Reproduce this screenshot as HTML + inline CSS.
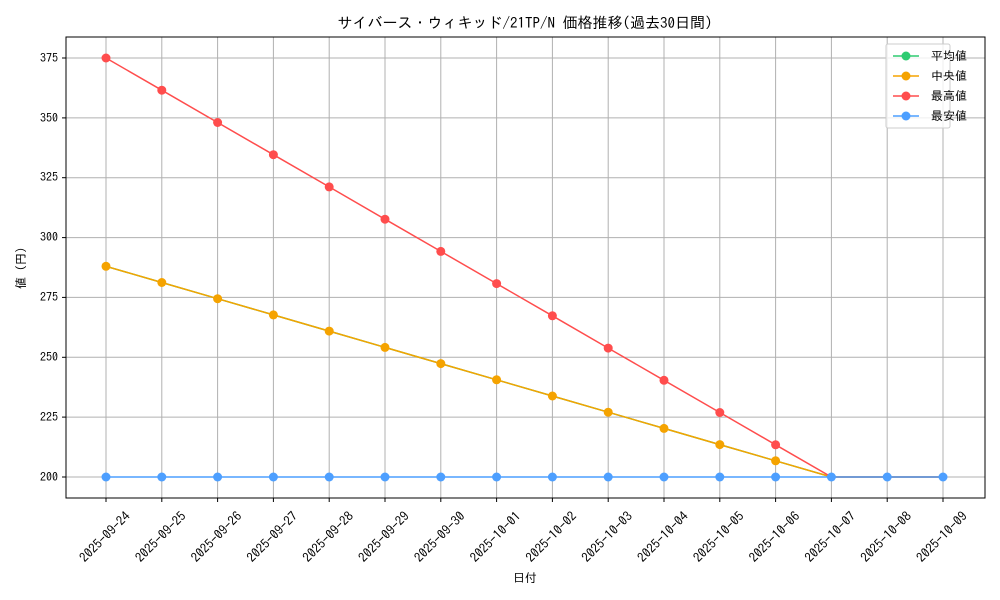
<!DOCTYPE html>
<html><head><meta charset="utf-8"><style>
html,body{margin:0;padding:0;background:#fff;}
svg{display:block;font-family:"IPAGothic","Liberation Mono","Noto Sans CJK JP",monospace;}
</style></head><body>
<svg width="1000" height="600" viewBox="0 0 1000 600" xmlns="http://www.w3.org/2000/svg">
<rect width="1000" height="600" fill="#fff"/>
<g stroke="#b0b0b0" stroke-width="1">
<line x1="106" y1="37" x2="106" y2="498"/><line x1="161.8" y1="37" x2="161.8" y2="498"/><line x1="217.6" y1="37" x2="217.6" y2="498"/><line x1="273.4" y1="37" x2="273.4" y2="498"/><line x1="329.2" y1="37" x2="329.2" y2="498"/><line x1="385" y1="37" x2="385" y2="498"/><line x1="440.8" y1="37" x2="440.8" y2="498"/><line x1="496.6" y1="37" x2="496.6" y2="498"/><line x1="552.4" y1="37" x2="552.4" y2="498"/><line x1="608.2" y1="37" x2="608.2" y2="498"/><line x1="664" y1="37" x2="664" y2="498"/><line x1="719.8" y1="37" x2="719.8" y2="498"/><line x1="775.6" y1="37" x2="775.6" y2="498"/><line x1="831.4" y1="37" x2="831.4" y2="498"/><line x1="887.2" y1="37" x2="887.2" y2="498"/><line x1="943" y1="37" x2="943" y2="498"/>
<line x1="66" y1="477" x2="985" y2="477"/><line x1="66" y1="417.1" x2="985" y2="417.1"/><line x1="66" y1="357.3" x2="985" y2="357.3"/><line x1="66" y1="297.4" x2="985" y2="297.4"/><line x1="66" y1="237.6" x2="985" y2="237.6"/><line x1="66" y1="177.7" x2="985" y2="177.7"/><line x1="66" y1="117.9" x2="985" y2="117.9"/><line x1="66" y1="58" x2="985" y2="58"/>
</g>
<rect x="66" y="37" width="919" height="461" fill="none" stroke="#000" stroke-width="1"/>
<g stroke="#000"><line x1="62" y1="477" x2="66" y2="477"/><line x1="62" y1="417.1" x2="66" y2="417.1"/><line x1="62" y1="357.3" x2="66" y2="357.3"/><line x1="62" y1="297.4" x2="66" y2="297.4"/><line x1="62" y1="237.6" x2="66" y2="237.6"/><line x1="62" y1="177.7" x2="66" y2="177.7"/><line x1="62" y1="117.9" x2="66" y2="117.9"/><line x1="62" y1="58" x2="66" y2="58"/></g>
<g font-size="12" text-anchor="end" fill="#000">
<text x="58" y="481">200</text><text x="58" y="421">225</text><text x="58" y="361">250</text><text x="58" y="301">275</text><text x="58" y="241">300</text><text x="58" y="181">325</text><text x="58" y="122">350</text><text x="58" y="62">375</text>
</g>
<g font-size="13" text-anchor="middle" fill="#000">
<text transform="translate(108,540) rotate(-45)">2025-09-24</text>
<text transform="translate(163.8,540) rotate(-45)">2025-09-25</text>
<text transform="translate(219.6,540) rotate(-45)">2025-09-26</text>
<text transform="translate(275.4,540) rotate(-45)">2025-09-27</text>
<text transform="translate(331.2,540) rotate(-45)">2025-09-28</text>
<text transform="translate(387,540) rotate(-45)">2025-09-29</text>
<text transform="translate(442.8,540) rotate(-45)">2025-09-30</text>
<text transform="translate(498.6,540) rotate(-45)">2025-10-01</text>
<text transform="translate(554.4,540) rotate(-45)">2025-10-02</text>
<text transform="translate(610.2,540) rotate(-45)">2025-10-03</text>
<text transform="translate(666,540) rotate(-45)">2025-10-04</text>
<text transform="translate(721.8,540) rotate(-45)">2025-10-05</text>
<text transform="translate(777.6,540) rotate(-45)">2025-10-06</text>
<text transform="translate(833.4,540) rotate(-45)">2025-10-07</text>
<text transform="translate(889.2,540) rotate(-45)">2025-10-08</text>
<text transform="translate(945,540) rotate(-45)">2025-10-09</text>
</g>
<g stroke="#000"><line x1="106" y1="498" x2="106" y2="502"/><line x1="161.8" y1="498" x2="161.8" y2="502"/><line x1="217.6" y1="498" x2="217.6" y2="502"/><line x1="273.4" y1="498" x2="273.4" y2="502"/><line x1="329.2" y1="498" x2="329.2" y2="502"/><line x1="385" y1="498" x2="385" y2="502"/><line x1="440.8" y1="498" x2="440.8" y2="502"/><line x1="496.6" y1="498" x2="496.6" y2="502"/><line x1="552.4" y1="498" x2="552.4" y2="502"/><line x1="608.2" y1="498" x2="608.2" y2="502"/><line x1="664" y1="498" x2="664" y2="502"/><line x1="719.8" y1="498" x2="719.8" y2="502"/><line x1="775.6" y1="498" x2="775.6" y2="502"/><line x1="831.4" y1="498" x2="831.4" y2="502"/><line x1="887.2" y1="498" x2="887.2" y2="502"/><line x1="943" y1="498" x2="943" y2="502"/></g>
<text x="525" y="582" font-size="12" text-anchor="middle">日付</text>
<text transform="translate(25,268) rotate(-90)" font-size="12" text-anchor="middle">値 (円)</text>
<text x="525" y="28" font-size="15" text-anchor="middle">サイバース・ウィキッド/21TP/N 価格推移(過去30日間)</text>
<polyline points="106,266.3 161.8,282.5 217.6,298.7 273.4,314.9 329.2,331.1 385,347.4 440.8,363.6 496.6,379.8 552.4,396 608.2,412.2 664,428.4 719.8,444.6 775.6,460.8 831.4,477 887.2,477 943,477" fill="none" stroke="#2ecc71" stroke-width="1.5"/>
<polyline points="106,266.3 161.8,282.5 217.6,298.7 273.4,314.9 329.2,331.1 385,347.4 440.8,363.6 496.6,379.8 552.4,396 608.2,412.2 664,428.4 719.8,444.6 775.6,460.8 831.4,477 887.2,477 943,477" fill="none" stroke="#f5a300" stroke-width="1.5"/>
<g fill="#f5a300">
<circle cx="106" cy="266.3" r="4.5"/><circle cx="161.8" cy="282.5" r="4.5"/><circle cx="217.6" cy="298.7" r="4.5"/><circle cx="273.4" cy="314.9" r="4.5"/><circle cx="329.2" cy="331.1" r="4.5"/><circle cx="385" cy="347.4" r="4.5"/><circle cx="440.8" cy="363.6" r="4.5"/><circle cx="496.6" cy="379.8" r="4.5"/><circle cx="552.4" cy="396" r="4.5"/><circle cx="608.2" cy="412.2" r="4.5"/><circle cx="664" cy="428.4" r="4.5"/><circle cx="719.8" cy="444.6" r="4.5"/><circle cx="775.6" cy="460.8" r="4.5"/>
</g>
<polyline points="106,58 161.8,90.2 217.6,122.5 273.4,154.7 329.2,186.9 385,219.2 440.8,251.4 496.6,283.6 552.4,315.8 608.2,348.1 664,380.3 719.8,412.5 775.6,444.8 831.4,477 887.2,477 943,477" fill="none" stroke="#ff4d4d" stroke-width="1.5"/>
<g fill="#ff4d4d">
<circle cx="106" cy="58" r="4.5"/><circle cx="161.8" cy="90.2" r="4.5"/><circle cx="217.6" cy="122.5" r="4.5"/><circle cx="273.4" cy="154.7" r="4.5"/><circle cx="329.2" cy="186.9" r="4.5"/><circle cx="385" cy="219.2" r="4.5"/><circle cx="440.8" cy="251.4" r="4.5"/><circle cx="496.6" cy="283.6" r="4.5"/><circle cx="552.4" cy="315.8" r="4.5"/><circle cx="608.2" cy="348.1" r="4.5"/><circle cx="664" cy="380.3" r="4.5"/><circle cx="719.8" cy="412.5" r="4.5"/><circle cx="775.6" cy="444.8" r="4.5"/>
</g>
<line x1="106" y1="477" x2="943" y2="477" stroke="#4d9fff" stroke-width="1.5"/>
<g fill="#4d9fff">
<circle cx="106" cy="477" r="4.5"/><circle cx="161.8" cy="477" r="4.5"/><circle cx="217.6" cy="477" r="4.5"/><circle cx="273.4" cy="477" r="4.5"/><circle cx="329.2" cy="477" r="4.5"/><circle cx="385" cy="477" r="4.5"/><circle cx="440.8" cy="477" r="4.5"/><circle cx="496.6" cy="477" r="4.5"/><circle cx="552.4" cy="477" r="4.5"/><circle cx="608.2" cy="477" r="4.5"/><circle cx="664" cy="477" r="4.5"/><circle cx="719.8" cy="477" r="4.5"/><circle cx="775.6" cy="477" r="4.5"/><circle cx="831.4" cy="477" r="4.5"/><circle cx="887.2" cy="477" r="4.5"/><circle cx="943" cy="477" r="4.5"/>
</g>
<rect x="886" y="44" width="64" height="84" rx="2" fill="#fff" fill-opacity="0.8" stroke="#ccc"/>
<g stroke-width="1.5">
<line x1="893" y1="56" x2="919" y2="56" stroke="#2ecc71"/><circle cx="906" cy="56" r="4.5" fill="#2ecc71"/>
<line x1="893" y1="76" x2="919" y2="76" stroke="#f5a300"/><circle cx="906" cy="76" r="4.5" fill="#f5a300"/>
<line x1="893" y1="96" x2="919" y2="96" stroke="#ff4d4d"/><circle cx="906" cy="96" r="4.5" fill="#ff4d4d"/>
<line x1="893" y1="116" x2="919" y2="116" stroke="#4d9fff"/><circle cx="906" cy="116" r="4.5" fill="#4d9fff"/>
</g>
<g font-size="12">
<text x="931" y="60">平均値</text>
<text x="931" y="80">中央値</text>
<text x="931" y="100">最高値</text>
<text x="931" y="120">最安値</text>
</g>
</svg>
</body></html>
